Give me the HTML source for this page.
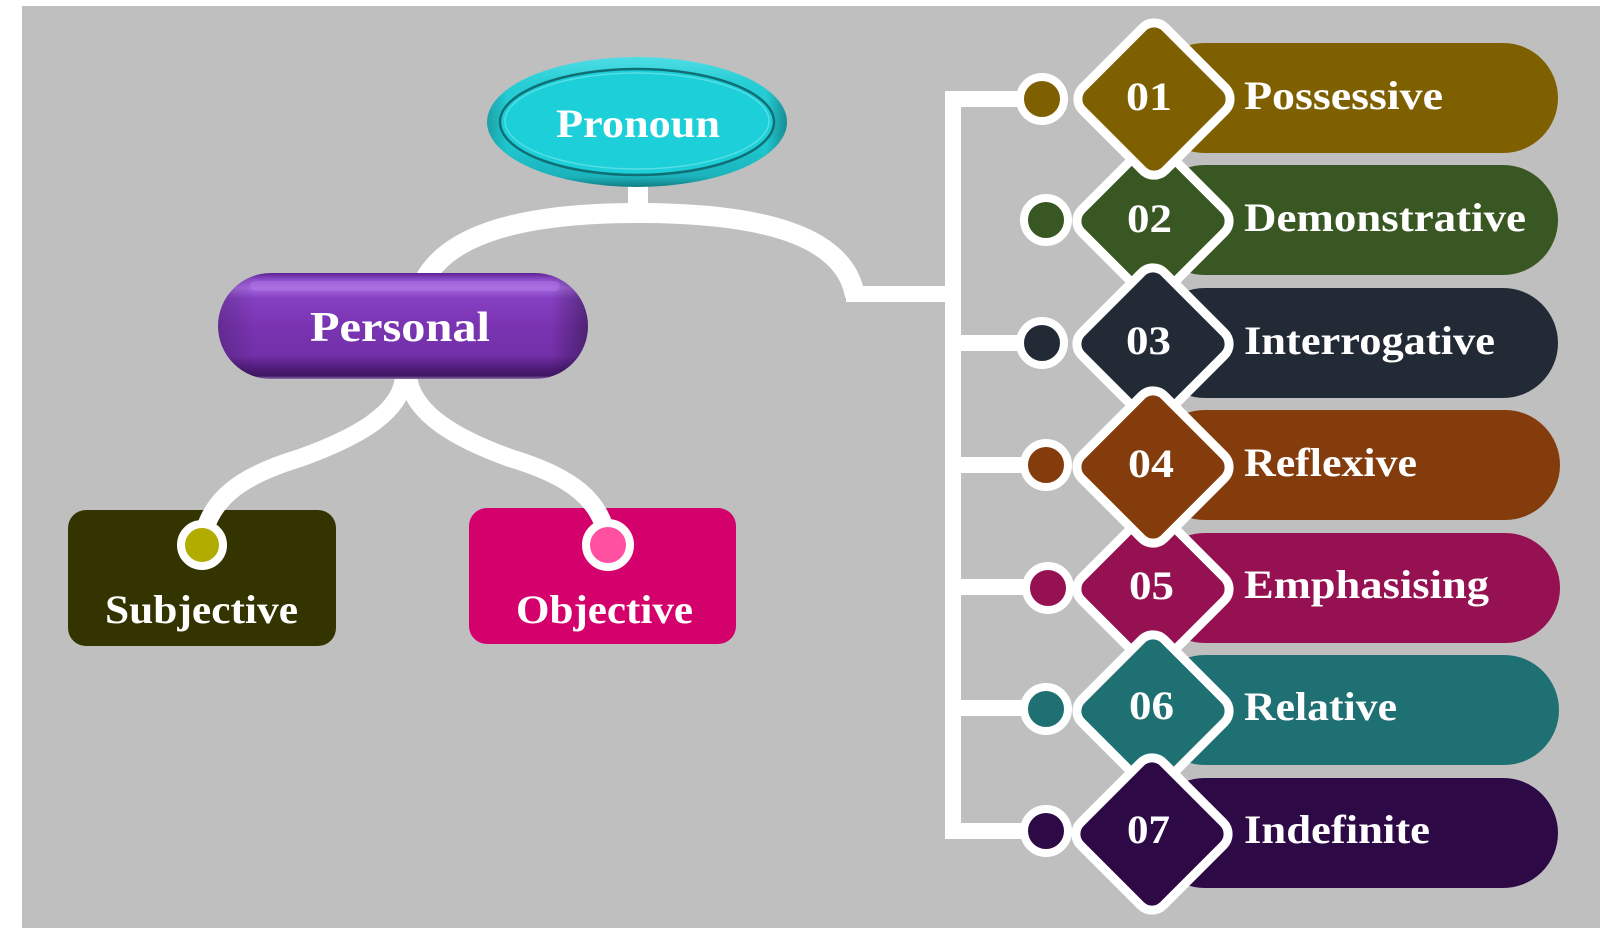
<!DOCTYPE html>
<html>
<head>
<meta charset="utf-8">
<style>
  html,body{margin:0;padding:0;background:#ffffff;}
  svg{display:block;}
  text{font-family:"Liberation Serif","DejaVu Serif",serif;font-weight:bold;fill:#ffffff;}
</style>
</head>
<body>
<svg width="1606" height="944" viewBox="0 0 1606 944" xmlns="http://www.w3.org/2000/svg">
  <defs>
    <linearGradient id="pg" x1="0" y1="0" x2="0" y2="1">
      <stop offset="0" stop-color="#4fdde5"/>
      <stop offset="0.2" stop-color="#27cdd5"/>
      <stop offset="0.7" stop-color="#1fc6ce"/>
      <stop offset="0.92" stop-color="#1bb3bb"/>
      <stop offset="1" stop-color="#137f85"/>
    </linearGradient>
    <linearGradient id="pgx" x1="0" y1="0" x2="1" y2="0">
      <stop offset="0" stop-color="#000" stop-opacity="0.2"/>
      <stop offset="0.07" stop-color="#000" stop-opacity="0"/>
      <stop offset="0.93" stop-color="#000" stop-opacity="0"/>
      <stop offset="1" stop-color="#000" stop-opacity="0.3"/>
    </linearGradient>
    <linearGradient id="pp" x1="0" y1="0" x2="0" y2="1">
      <stop offset="0" stop-color="#5d2290"/>
      <stop offset="0.06" stop-color="#8a4cc8"/>
      <stop offset="0.14" stop-color="#a567de"/>
      <stop offset="0.24" stop-color="#8540c2"/>
      <stop offset="0.5" stop-color="#7a34b2"/>
      <stop offset="0.78" stop-color="#7230a8"/>
      <stop offset="0.9" stop-color="#4f1c78"/>
      <stop offset="0.97" stop-color="#3e1560"/>
      <stop offset="1" stop-color="#8e70b0"/>
    </linearGradient>
    <linearGradient id="ppx" x1="0" y1="0" x2="1" y2="0">
      <stop offset="0" stop-color="#000" stop-opacity="0.18"/>
      <stop offset="0.1" stop-color="#000" stop-opacity="0"/>
      <stop offset="0.9" stop-color="#000" stop-opacity="0"/>
      <stop offset="1" stop-color="#000" stop-opacity="0.35"/>
    </linearGradient>
  </defs>

  <!-- background -->
  <rect x="22" y="6" width="1578" height="922" fill="#bfbfbf"/>

  <!-- stub from Pronoun -->
  <rect x="628" y="180" width="20" height="32" fill="#ffffff"/>
  <!-- main arc -->
  <path d="M 420 290 C 440 235, 520 213, 638 213 C 760 213, 845 235, 855 296" fill="none" stroke="#ffffff" stroke-width="20"/>
  <rect x="846" y="286" width="110" height="16" fill="#ffffff"/>

  <!-- vertical spine -->
  <rect x="945" y="91" width="16" height="748" fill="#ffffff"/>
  <!-- branches -->
  <rect x="955" y="91" width="75" height="16" fill="#ffffff"/>
  <rect x="955" y="335" width="75" height="16" fill="#ffffff"/>
  <rect x="955" y="457" width="75" height="16" fill="#ffffff"/>
  <rect x="955" y="579" width="75" height="16" fill="#ffffff"/>
  <rect x="955" y="700" width="75" height="16" fill="#ffffff"/>
  <rect x="955" y="823" width="75" height="16" fill="#ffffff"/>

  <!-- pills -->
  <rect x="1150" y="43" width="408" height="110" rx="55" fill="#7f6000"/>
  <rect x="1150" y="165" width="408" height="110" rx="55" fill="#385723"/>
  <rect x="1150" y="288" width="408" height="110" rx="55" fill="#222a35"/>
  <rect x="1150" y="410" width="410" height="110" rx="55" fill="#843c0c"/>
  <rect x="1150" y="533" width="410" height="110" rx="55" fill="#951151"/>
  <rect x="1150" y="655" width="409" height="110" rx="55" fill="#1f7073"/>
  <rect x="1150" y="778" width="408" height="110" rx="55" fill="#2d0946"/>

  <!-- circles -->
  <circle cx="1042" cy="99" r="22" fill="#7f6000" stroke="#ffffff" stroke-width="8"/>
  <circle cx="1046" cy="220" r="22" fill="#385723" stroke="#ffffff" stroke-width="8"/>
  <circle cx="1042" cy="343" r="22" fill="#222a35" stroke="#ffffff" stroke-width="8"/>
  <circle cx="1046" cy="465" r="22" fill="#843c0c" stroke="#ffffff" stroke-width="8"/>
  <circle cx="1048" cy="588" r="22" fill="#951151" stroke="#ffffff" stroke-width="8"/>
  <circle cx="1046" cy="709" r="22" fill="#1f7073" stroke="#ffffff" stroke-width="8"/>
  <circle cx="1046" cy="831" r="22" fill="#2d0946" stroke="#ffffff" stroke-width="8"/>

  <!-- diamonds (z-order: 02,01,03,05,04,06,07) -->
  <rect x="-58.5" y="-58.5" width="117" height="117" rx="16" transform="translate(1153,221) rotate(45)" fill="#385723" stroke="#ffffff" stroke-width="9"/>
  <rect x="-58.5" y="-58.5" width="117" height="117" rx="16" transform="translate(1154,99) rotate(45)" fill="#7f6000" stroke="#ffffff" stroke-width="9"/>
  <rect x="-58.5" y="-58.5" width="117" height="117" rx="16" transform="translate(1153,344) rotate(45)" fill="#222a35" stroke="#ffffff" stroke-width="9"/>
  <rect x="-58.5" y="-58.5" width="117" height="117" rx="16" transform="translate(1153,589) rotate(45)" fill="#951151" stroke="#ffffff" stroke-width="9"/>
  <rect x="-58.5" y="-58.5" width="117" height="117" rx="16" transform="translate(1153,467) rotate(45)" fill="#843c0c" stroke="#ffffff" stroke-width="9"/>
  <rect x="-58.5" y="-58.5" width="117" height="117" rx="16" transform="translate(1153,711) rotate(45)" fill="#1f7073" stroke="#ffffff" stroke-width="9"/>
  <rect x="-58.5" y="-58.5" width="117" height="117" rx="16" transform="translate(1152,834) rotate(45)" fill="#2d0946" stroke="#ffffff" stroke-width="9"/>

  <!-- numbers -->
  <text x="1126" y="110" font-size="40" textLength="46" lengthAdjust="spacingAndGlyphs">01</text>
  <text x="1127" y="232" font-size="40" textLength="45" lengthAdjust="spacingAndGlyphs">02</text>
  <text x="1126" y="354" font-size="40" textLength="45" lengthAdjust="spacingAndGlyphs">03</text>
  <text x="1128" y="477" font-size="40" textLength="46" lengthAdjust="spacingAndGlyphs">04</text>
  <text x="1129" y="599" font-size="40" textLength="45" lengthAdjust="spacingAndGlyphs">05</text>
  <text x="1129" y="719" font-size="40" textLength="45" lengthAdjust="spacingAndGlyphs">06</text>
  <text x="1127" y="843" font-size="40" textLength="43" lengthAdjust="spacingAndGlyphs">07</text>

  <!-- labels -->
  <text x="1244" y="109" font-size="40" textLength="199" lengthAdjust="spacingAndGlyphs">Possessive</text>
  <text x="1244" y="231" font-size="40" textLength="282" lengthAdjust="spacingAndGlyphs">Demonstrative</text>
  <text x="1244" y="354" font-size="40" textLength="251" lengthAdjust="spacingAndGlyphs">Interrogative</text>
  <text x="1244" y="476" font-size="40" textLength="173" lengthAdjust="spacingAndGlyphs">Reflexive</text>
  <text x="1244" y="598" font-size="40" textLength="245" lengthAdjust="spacingAndGlyphs">Emphasising</text>
  <text x="1244" y="720" font-size="40" textLength="153" lengthAdjust="spacingAndGlyphs">Relative</text>
  <text x="1244" y="843" font-size="40" textLength="186" lengthAdjust="spacingAndGlyphs">Indefinite</text>

  <!-- Subjective / Objective boxes -->
  <rect x="68" y="510" width="268" height="136" rx="18" fill="#343400"/>
  <rect x="469" y="508" width="267" height="136" rx="18" fill="#d4006b"/>

  <!-- lower connectors -->
  <path d="M 404 376 C 402 415, 350 440, 300 458 C 240 476, 208 500, 202 543" fill="none" stroke="#ffffff" stroke-width="18"/>
  <path d="M 408 376 C 412 415, 460 440, 510 458 C 570 476, 604 500, 608 545" fill="none" stroke="#ffffff" stroke-width="18"/>

  <circle cx="202" cy="545" r="21" fill="#b1ac00" stroke="#ffffff" stroke-width="8"/>
  <circle cx="608" cy="545" r="22" fill="#ff50a2" stroke="#ffffff" stroke-width="8"/>

  <text x="105" y="623" font-size="40" textLength="193" lengthAdjust="spacingAndGlyphs">Subjective</text>
  <text x="516" y="623" font-size="40" textLength="177" lengthAdjust="spacingAndGlyphs">Objective</text>

  <!-- Personal pill -->
  <rect x="218" y="273" width="370" height="106" rx="53" fill="url(#pp)"/>
  <rect x="218" y="273" width="370" height="106" rx="53" fill="url(#ppx)"/>
  <rect x="250" y="281" width="310" height="10" rx="5" fill="#b47ae8" opacity="0.45"/>
  <text x="310" y="341" font-size="42" textLength="180" lengthAdjust="spacingAndGlyphs">Personal</text>

  <!-- Pronoun ellipse -->
  <ellipse cx="637" cy="122" rx="150" ry="65" fill="url(#pg)"/>
  <ellipse cx="637" cy="122" rx="150" ry="65" fill="url(#pgx)"/>
  <ellipse cx="637" cy="122" rx="137" ry="53" fill="#1ccfd8" stroke="#0f6f74" stroke-width="2.5"/>
  <ellipse cx="637" cy="121" rx="132" ry="48" fill="none" stroke="#7ae8ee" stroke-width="1.5" opacity="0.6"/>
  <text x="556" y="137" font-size="40" textLength="164" lengthAdjust="spacingAndGlyphs">Pronoun</text>
</svg>
</body>
</html>
